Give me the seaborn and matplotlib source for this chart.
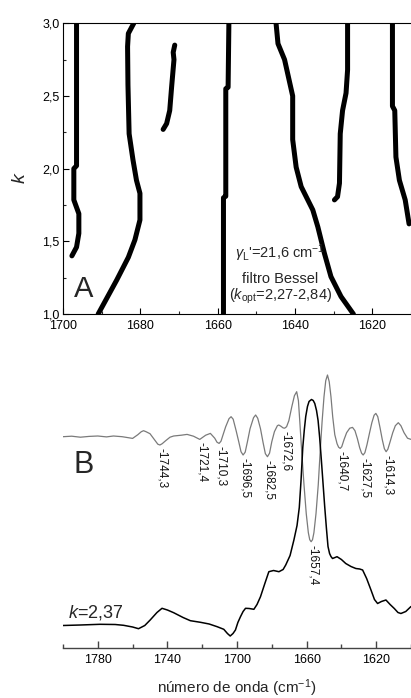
import numpy as np
import pandas as pd
import seaborn as sns
import matplotlib
matplotlib.use("Agg")
import matplotlib.pyplot as plt
from matplotlib.ticker import MultipleLocator, FuncFormatter, FixedLocator

# ---------------- Panel A data: contour lines (wavenumber, k) ----------------
c1_wn = [1696.5, 1696.5, 1697.2, 1697.2, 1695.9, 1695.9, 1696.5, 1697.7]
c1_k = [3.00, 2.02, 2.00, 1.785, 1.69, 1.555, 1.46, 1.40]

c2_wn = [1681.7, 1683.1, 1683.3, 1683.2, 1682.9, 1681.9, 1681.0, 1680.1, 1680.1, 1681.4, 1683.1, 1686.1, 1690.9]
c2_k = [3.00, 2.93, 2.84, 2.576, 2.24, 2.06, 1.92, 1.83, 1.647, 1.51, 1.39, 1.234, 1.00]

c3_wn = [1671.1, 1671.5, 1671.3, 1671.9, 1672.4, 1673.2, 1674.1]
c3_k = [2.85, 2.80, 2.75, 2.565, 2.40, 2.31, 2.27]

c4_wn = [1657.1, 1657.3, 1657.9, 1657.9, 1658.5, 1658.5]
c4_k = [3.00, 2.56, 2.55, 1.81, 1.80, 1.00]

c5_wn = [1644.9, 1644.4, 1642.7, 1640.6, 1640.6, 1639.7, 1638.4, 1635.4, 1634.1, 1632.4, 1630.7, 1628.1, 1624.9]
c5_k = [3.00, 2.86, 2.75, 2.50, 2.20, 2.01, 1.876, 1.716, 1.60, 1.418, 1.257, 1.12, 1.00]

c6_wn = [1626.4, 1626.4, 1626.8, 1627.7, 1628.3, 1628.5, 1629.0, 1629.8]
c6_k = [3.00, 2.68, 2.52, 2.40, 2.24, 1.90, 1.807, 1.785]

c7_wn = [1614.8, 1614.8, 1614.2, 1613.9, 1613.0, 1611.5, 1610.5]
c7_k = [3.00, 2.43, 2.40, 2.08, 1.92, 1.785, 1.62]

contours = [(c1_wn, c1_k), (c2_wn, c2_k), (c3_wn, c3_k), (c4_wn, c4_k),
            (c5_wn, c5_k), (c6_wn, c6_k), (c7_wn, c7_k)]

# ---------------- Panel B data ----------------
# second-derivative (inverted) spectrum, arbitrary units
deriv_wn = [1800, 1795, 1790, 1785, 1780, 1775, 1771, 1766, 1760, 1757, 1755, 1753.7, 1752.3,
            1750, 1747, 1745.5, 1744.3, 1743, 1741, 1738.5, 1736.4, 1732, 1728.7, 1725,
            1721.4, 1718, 1715.3, 1712.8, 1711.5, 1710.3, 1709.2, 1708, 1706.5, 1704.6,
            1703.4, 1702.2, 1700.5, 1699, 1697.7, 1696.5, 1695.3, 1694, 1692.5, 1690.5,
            1689.3, 1688.1, 1686.5, 1685, 1683.7, 1682.5, 1681.3, 1680, 1678.5, 1676.8,
            1676, 1674.8, 1673.5, 1672.6, 1671.5, 1670.2, 1668.5, 1667, 1665.7, 1664.7,
            1663.9, 1662.8, 1661.5, 1660.2, 1659, 1658.2, 1657.4, 1656.6, 1655.8, 1654.6,
            1653.3, 1652.2, 1651.1, 1650, 1649, 1648.0, 1647, 1646, 1645, 1643.8, 1642.5,
            1641.6, 1640.7, 1639.8, 1638.5, 1637, 1635.2, 1633.6, 1632.2, 1630.8, 1629.5,
            1628.4, 1627.5, 1626.5, 1625.3, 1623.8, 1622.5, 1621.2, 1620.2, 1619.1, 1617.8,
            1616.5, 1615.3, 1614.3, 1613.3, 1612, 1610.5, 1609, 1607.3, 1605.8, 1604,
            1602, 1600]
deriv_val = [0, 0.5, -0.5, 0.3, 0.7, -0.2, 0.7, 0, -1.7, 2, 5, 6, 5,
             3, -4, -7.5, -8.3, -7, -4, -0.5, 0.7, 1.5, 2.3, 0.5,
             -2.7, 1.5, 3.3, -1.5, -5.5, -6.7, -4.5, 2, 10, 18,
             20, 17.5, 6, -5, -15, -18.3, -15.5, -5, 8, 19,
             21.7, 18.5, 8, -6, -17, -20, -16.5, -5, 5, 11,
             11.7, 10.5, 8.8, 8.5, 10, 16, 30, 41, 45, 36,
             15, -15, -48, -77, -96, -103, -105, -103, -96, -77,
             -48, -15, 15, 40, 56, 61.7, 55, 40, 20, 2, -7,
             -10.5, -11.7, -10, -3, 4, 8.5, 9.3, 6, -2, -11,
             -16.5, -18.3, -16, -8, 4, 14, 21.5, 23.3, 20, 9,
             -3, -12, -15, -12.5, -5, 4, 11, 14, 11, 4,
             -1.5, -2.7]

# absorbance spectrum after deconvolution (k = 2,37), arbitrary units
abs_wn = [1800, 1790, 1778.7, 1770, 1765.2, 1760, 1756.6, 1753, 1749.9, 1746, 1743.1, 1740,
          1736.4, 1731, 1726.8, 1721, 1716, 1711.4, 1707.6, 1705.5, 1703.9, 1702.3, 1700.9,
          1699.5, 1698, 1696.5, 1695.1, 1693, 1690.3, 1688.5, 1686.5, 1684, 1681.7, 1679,
          1675.9, 1673.5, 1672, 1669.5, 1667.3, 1665.5, 1664.2, 1663.2, 1662.2, 1661.3,
          1660.5, 1659.5, 1658.6, 1657.2, 1656.2, 1655.3, 1654.3, 1653.4, 1652.5, 1651.5,
          1649.6, 1648.6, 1647.7, 1646.8, 1646, 1645.1, 1642.5,
          1640, 1637.5, 1634.5, 1631.7, 1629.5, 1627.8, 1625.5, 1623, 1621, 1619.2, 1617,
          1614.4, 1612, 1609.6, 1607.5, 1605.8, 1603, 1600]
abs_val = [0, 0.5, 1.2, 1, 0.2, -1.5, -3.2, 0, 5.5, 13, 17.2, 15.5,
           12.8, 8, 4.8, 3.2, 1.5, -1.2, -3.8, -8, -10.5, -8, -4.5,
           3, 8.8, 14, 17.2, 17, 16.2, 21, 28.8, 42, 53.8, 55,
           53.8, 56, 60.5, 70, 85.5, 100, 118, 145, 178, 196,
           209, 219, 224, 226, 225, 222, 215, 205, 188, 165,
           119, 97, 79, 72, 69, 67, 68.8,
           66, 62, 59, 57, 56.5, 55.5, 47, 35.5, 26, 22, 24,
           25.5, 21, 17, 13, 12, 14, 19]

band_labels = ["-1744,3", "-1721,4", "-1710,3", "-1696,5", "-1682,5", "-1672,6",
               "-1657,4", "-1640,7", "-1627,5", "-1614,3"]
band_wn = [1744.3, 1721.4, 1710.3, 1696.5, 1682.5, 1672.6, 1657.4, 1640.7, 1627.5, 1614.3]
band_val = [-8.3, -2.7, -6.7, -18.3, -20, 8.5, -105, -11.7, -18.3, -15]

# ---------------- styling ----------------
sns.set_style("ticks")
plt.rcParams["font.family"] = ["Liberation Sans", "DejaVu Sans"]
plt.rcParams["mathtext.fontset"] = "custom"
plt.rcParams["mathtext.rm"] = "Liberation Sans"
plt.rcParams["mathtext.it"] = "Liberation Sans:italic"
plt.rcParams["mathtext.bf"] = "Liberation Sans:bold"

W, H = 411, 698
fig = plt.figure(figsize=(W / 100, H / 100), dpi=100)

comma = FuncFormatter(lambda v, p: f"{v:.1f}".replace(".", ","))

# ---------------- Panel A ----------------
axA = fig.add_axes([63 / W, (H - 314) / H, 348 / W, (314 - 23.3) / H])
for wn, k in contours:
    df = pd.DataFrame({"wn": wn, "k": k})
    sns.lineplot(data=df, x="wn", y="k", sort=False, estimator=None,
                 color="black", linewidth=3.6, ax=axA)
axA.set_xlim(1700, 1610)
axA.set_ylim(1.0, 3.0)
axA.xaxis.set_major_locator(MultipleLocator(20))
axA.xaxis.set_minor_locator(MultipleLocator(10))
axA.yaxis.set_major_locator(MultipleLocator(0.5))
axA.yaxis.set_minor_locator(MultipleLocator(0.25))
axA.yaxis.set_major_formatter(comma)
axA.tick_params(which="major", direction="in", length=4, width=0.8, labelsize=9,
                colors="black")
axA.tick_params(axis="x", which="major", pad=4.5)
axA.tick_params(axis="y", which="major", pad=2.5)
axA.tick_params(which="minor", direction="in", length=2.5, width=0.8)
for s in ["left", "top", "bottom"]:
    axA.spines[s].set_linewidth(0.8)
    axA.spines[s].set_color("black")
axA.spines["right"].set_visible(False)
axA.set_xlabel("")
axA.set_ylabel("")
fig.text(20 / W, 1 - 178 / H, "$k$", rotation=90, fontsize=14, ha="center", va="center")

axA.text(1697.3, 1.117, "A", fontsize=21, ha="left", va="baseline")
axA.text(1643.8, 1.385, r"$\gamma_{\rm L}$'=21,6 cm$^{-1}$", fontsize=10.5, ha="center", va="baseline")
axA.text(1643.8, 1.21, "filtro Bessel", fontsize=10.5, ha="center", va="baseline")
axA.text(1643.8, 1.10, r"($k_{\rm opt}$=2,27-2,84)", fontsize=10.5, ha="center", va="baseline")

# ---------------- Panel B ----------------
offset = 188.8
axB = fig.add_axes([63 / W, 50 / H, 348 / W, 288 / H])
dfd = pd.DataFrame({"wn": deriv_wn, "val": np.array(deriv_val) + offset})
dfa = pd.DataFrame({"wn": abs_wn, "val": abs_val})
sns.lineplot(data=dfd, x="wn", y="val", sort=False, estimator=None,
             color="#7a7a7a", linewidth=0.9, ax=axB)
sns.lineplot(data=dfa, x="wn", y="val", sort=False, estimator=None,
             color="black", linewidth=1.1, ax=axB)
axB.set_xlim(1800, 1600)
axB.set_ylim(-22.5, 265.5)
axB.xaxis.set_major_locator(FixedLocator([1780, 1740, 1700, 1660, 1620]))
axB.xaxis.set_minor_locator(MultipleLocator(20))
axB.set_yticks([])
for s in ["left", "top", "right"]:
    axB.spines[s].set_visible(False)
axB.spines["bottom"].set_color("#444444")
axB.spines["bottom"].set_linewidth(1.0)
axB.tick_params(axis="x", which="major", direction="in", length=5, width=1,
                color="#444444", labelsize=9, pad=4, labelcolor="black")
axB.tick_params(axis="x", which="minor", direction="in", length=3, width=1, color="#444444")
axB.set_xlabel("")
axB.set_ylabel("")

for lab, wn, v in zip(band_labels, band_wn, band_val):
    axB.text(wn - 1.0, v + offset - 3, lab, rotation=-90, fontsize=8.5,
             ha="center", va="top", color="#111111")

axB.text(1794.2, 152.5, "B", fontsize=22, ha="left", va="baseline")
axB.text(1797, 7.5, "$k$=2,37", fontsize=13, ha="left", va="baseline")

fig.text(237 / W, 1 - 688 / H, "número de onda (cm$^{-1}$)", fontsize=11,
         ha="center", va="center")

fig.savefig("out.png", dpi=100)
